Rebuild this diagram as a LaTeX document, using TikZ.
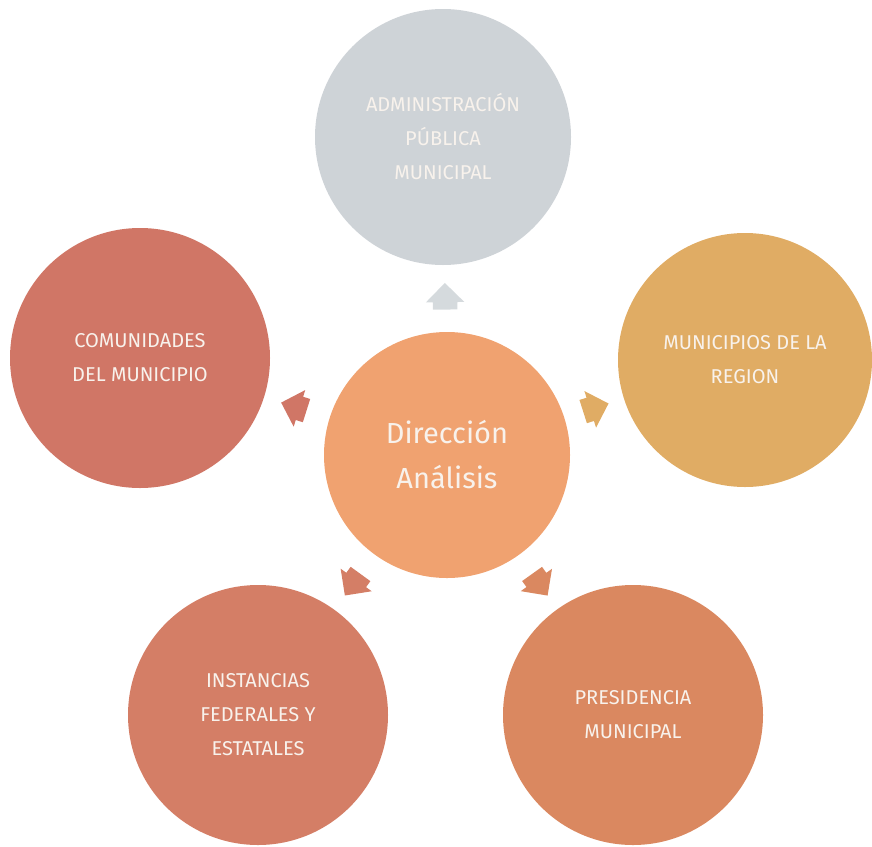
\documentclass[tikz,border=0pt]{standalone}
\usepackage{fontspec}
\setmainfont{Fira Sans}
\usepackage{tikz}
\usetikzlibrary{shapes.arrows}
\usepackage{xcolor}
\definecolor{admincol}{RGB}{206,211,215}
\definecolor{comucol}{RGB}{208,118,102}
\definecolor{municol}{RGB}{224,172,100}
\definecolor{dircol}{RGB}{240,162,112}
\definecolor{instcol}{RGB}{212,126,102}
\definecolor{presicol}{RGB}{218,136,96}
\definecolor{textcol}{RGB}{248,242,236}

\begin{document}
\begin{tikzpicture}[x=1pt,y=-1pt,
  bola/.style={circle,inner sep=0pt,align=center,text=textcol,
    font=\fontsize{20}{34}\selectfont},
  flecha/.style={single arrow,sloped,allow upside down,
    inner xsep=7pt,inner ysep=12pt,single arrow head extend=7pt,pos=0.48}]
  \useasboundingbox (0,0) rectangle (872,846);
  % circulos
  \node[bola,fill=dircol,minimum size=246pt,font=\fontsize{29}{45}\selectfont] (dir) at (447,455) {Dirección\\Análisis};
  \node[bola,fill=admincol,minimum size=256pt] (admin) at (443,137) {ADMINISTRACIÓN\\PÚBLICA\\MUNICIPAL};
  \node[bola,fill=comucol,minimum size=260pt] (comu) at (140,358) {COMUNIDADES\\DEL MUNICIPIO};
  \node[bola,fill=municol,minimum size=254pt] (muni) at (745,360) {MUNICIPIOS DE LA\\REGION};
  \node[bola,fill=instcol,minimum size=260pt] (inst) at (258,715) {INSTANCIAS\\FEDERALES Y\\ESTATALES};
  \node[bola,fill=presicol,minimum size=260pt] (presi) at (633,715) {PRESIDENCIA\\MUNICIPAL};
  % flechas
  \path (dir.center) -- (admin.center) node[flecha,fill=admincol!85!white] (fadmin) {};
  \path (dir.center) -- (comu.center) node[flecha,fill=comucol] (fcomu) {};
  \path (dir.center) -- (muni.center) node[flecha,fill=municol] (fmuni) {};
  \path (dir.center) -- (inst.center) node[flecha,fill=instcol] (finst) {};
  \path (dir.center) -- (presi.center) node[flecha,fill=presicol] (fpresi) {};
\end{tikzpicture}
\end{document}
